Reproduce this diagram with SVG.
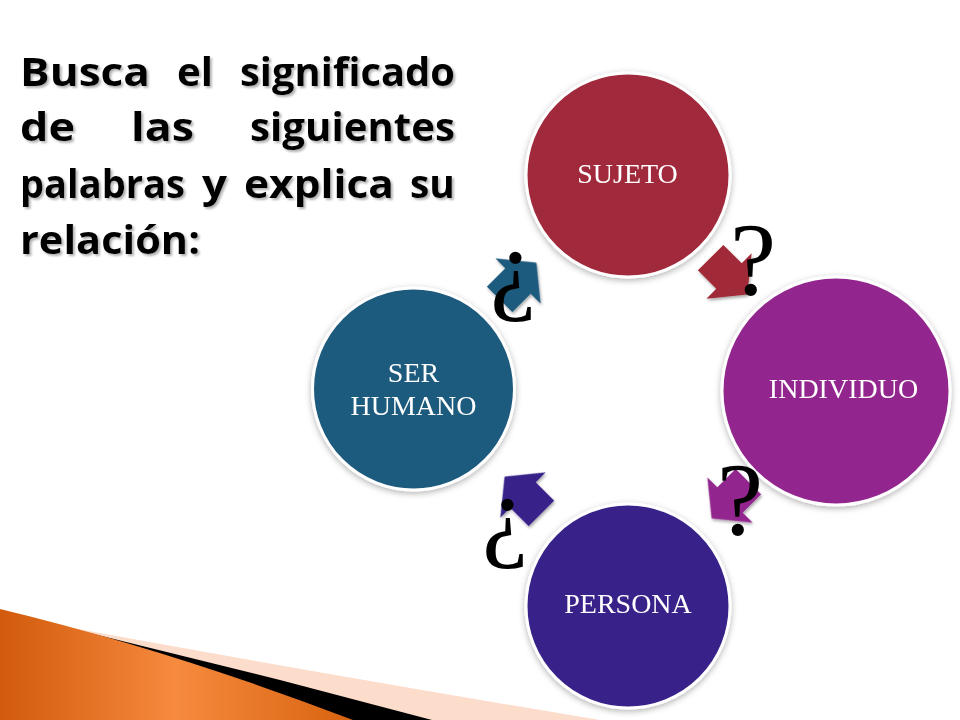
<svg xmlns="http://www.w3.org/2000/svg" width="960" height="720" viewBox="0 0 960 720">
<defs>
<style>
.title{font-family:"Open Sans","Liberation Sans",sans-serif;font-weight:bold;font-size:39px;fill:#000;}
.lbl{font-family:"Liberation Serif","DejaVu Serif",serif;font-size:28px;fill:#fff;text-anchor:middle;}
.q{font-family:"Liberation Serif","DejaVu Serif",serif;font-size:104px;fill:#000;text-anchor:middle;}
.node circle{stroke:#fff;stroke-width:3;}
</style>
<filter id="tshadow" x="-5%" y="-20%" width="110%" height="140%">
<feDropShadow dx="2" dy="2" stdDeviation="1" flood-color="#808080" flood-opacity="0.6"/>
</filter>
<filter id="cshadow" x="-10%" y="-10%" width="120%" height="120%">
<feDropShadow dx="0" dy="2" stdDeviation="3" flood-color="#000" flood-opacity="0.3"/>
</filter>
<filter id="ashadow" x="-20%" y="-20%" width="140%" height="140%">
<feDropShadow dx="1" dy="2" stdDeviation="1.5" flood-color="#000" flood-opacity="0.35"/>
</filter>
<path id="arr" d="M-26,-18 L0,-18 L0,-32 L26,0 L0,32 L0,18 L-26,18 Z"/>
<linearGradient id="og" x1="0" y1="0" x2="1" y2="0">
<stop offset="0" stop-color="#D25A0C"/>
<stop offset="0.5" stop-color="#F68A3E"/>
<stop offset="1" stop-color="#D8630F"/>
</linearGradient>
</defs>
<rect width="960" height="720" fill="#fff"/>

<!-- bottom-left decoration -->
<path d="M40,622 Q300,670 600,720 L0,720 Z" fill="#FCDCCB"/>
<path d="M45,622 L280,680 L432,720 L0,720 Z" fill="#000"/>
<path d="M0,609 Q170,650 353,720 L0,720 Z" fill="url(#og)"/>

<!-- title -->
<g id="title" filter="url(#tshadow)">
<text class="title" x="20" y="86" textLength="130" lengthAdjust="spacingAndGlyphs">Busca</text>
<text class="title" x="177" y="86" textLength="36" lengthAdjust="spacingAndGlyphs">el</text>
<text class="title" x="240" y="86" textLength="215" lengthAdjust="spacingAndGlyphs">significado</text>
<text class="title" x="20" y="141" textLength="55" lengthAdjust="spacingAndGlyphs">de</text>
<text class="title" x="131" y="141" textLength="63" lengthAdjust="spacingAndGlyphs">las</text>
<text class="title" x="250" y="141" textLength="205" lengthAdjust="spacingAndGlyphs">siguientes</text>
<text class="title" x="20" y="198" textLength="165" lengthAdjust="spacingAndGlyphs">palabras</text>
<text class="title" x="202" y="198" textLength="25" lengthAdjust="spacingAndGlyphs">y</text>
<text class="title" x="244" y="198" textLength="150" lengthAdjust="spacingAndGlyphs">explica</text>
<text class="title" x="410" y="198" textLength="45" lengthAdjust="spacingAndGlyphs">su</text>
<text class="title" x="20" y="254" textLength="180" lengthAdjust="spacingAndGlyphs">relación:</text>
</g>

<!-- connectors -->
<g id="connectors" filter="url(#ashadow)">
<use href="#arr" fill="#A02A37" transform="translate(729,276) rotate(45)"/>
<use href="#arr" fill="#93288E" transform="translate(730,500) rotate(135)"/>
<use href="#arr" fill="#37228A" transform="translate(523,495) rotate(225)"/>
<use href="#arr" fill="#1E5A7E" transform="translate(518,281) rotate(315)"/>
</g>

<!-- nodes -->
<g id="sujeto" class="node">
<circle cx="628" cy="175" r="102" fill="#A02A3B" filter="url(#cshadow)"/>
<text class="lbl" x="627.5" y="183">SUJETO</text>
</g>
<g id="individuo" class="node">
<circle cx="836" cy="391" r="114" fill="#93288E" filter="url(#cshadow)"/>
<text class="lbl" x="843.5" y="398">INDIVIDUO</text>
</g>
<g id="persona" class="node">
<circle cx="628" cy="606" r="102" fill="#37228A" filter="url(#cshadow)"/>
<text class="lbl" x="628" y="613">PERSONA</text>
</g>
<g id="serhumano" class="node">
<circle cx="413.5" cy="389" r="101" fill="#1E5A7E" filter="url(#cshadow)"/>
<text class="lbl" x="413.5" y="382">SER</text>
<text class="lbl" x="413.5" y="415">HUMANO</text>
</g>

<!-- question marks -->
<g id="marks">
<text class="q" x="753" y="295">?</text>
<text class="q" x="740" y="535">?</text>
<text class="q" x="513" y="300">¿</text>
<text class="q" x="505" y="547">¿</text>
</g>
</svg>
